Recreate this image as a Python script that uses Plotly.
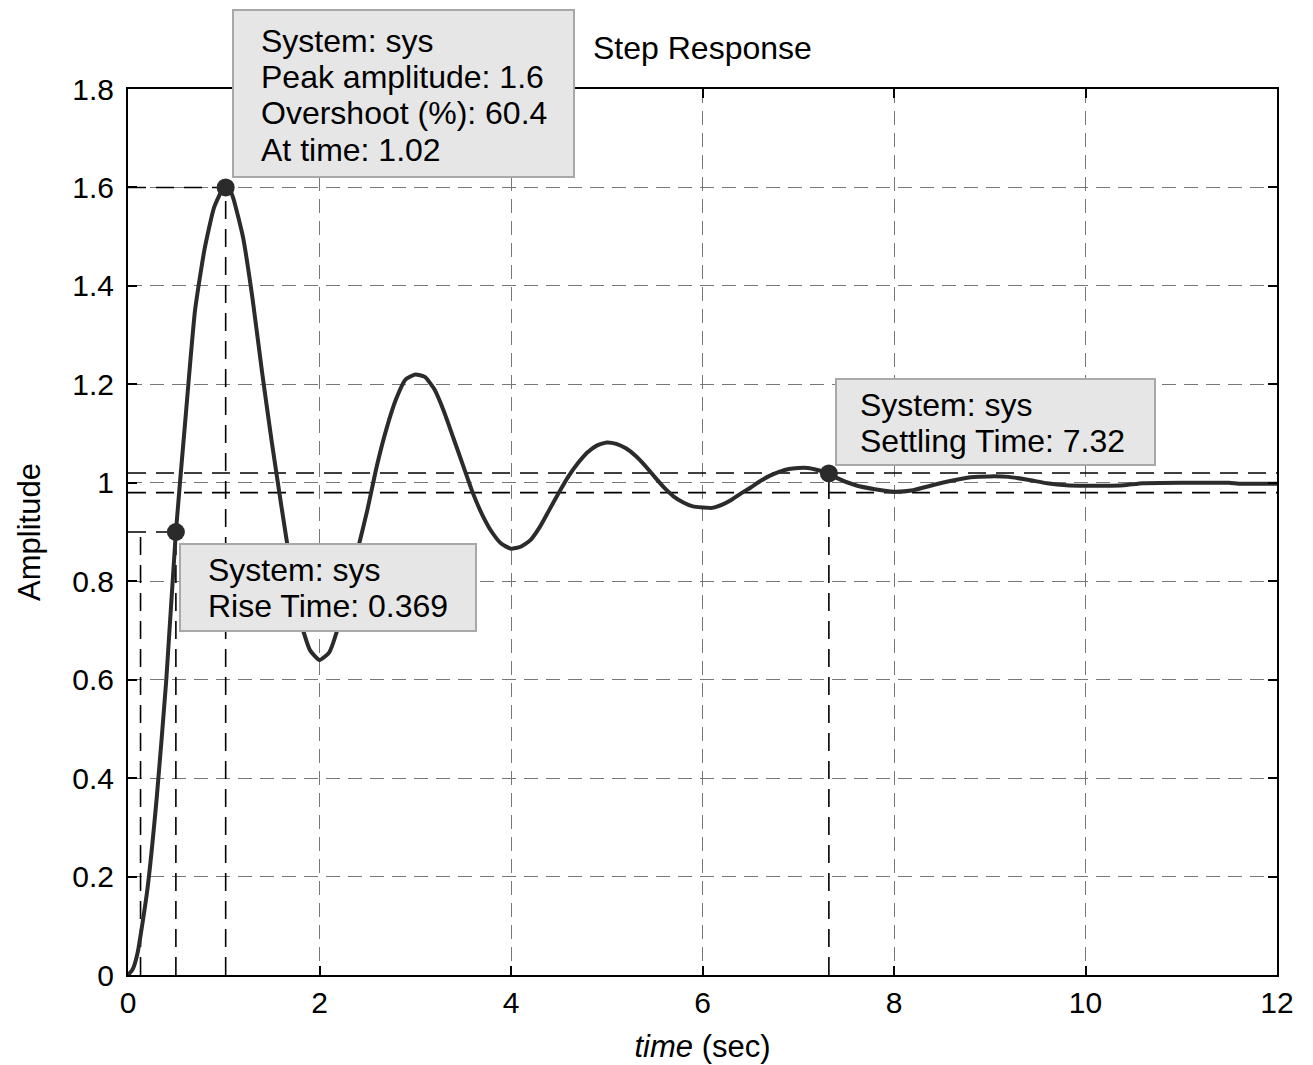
import plotly.graph_objects as go

# Step response samples
time_s = [0.0, 0.05, 0.1, 0.2, 0.3, 0.4, 0.5, 0.6, 0.7, 0.8, 0.9, 1.0, 1.05, 1.1, 1.2, 1.3,
          1.4, 1.5, 1.6, 1.7, 1.8, 1.9, 2.0, 2.1, 2.2, 2.3, 2.4, 2.5, 2.6, 2.7, 2.8, 2.9,
          3.0, 3.1, 3.2, 3.3, 3.4, 3.5, 3.6, 3.7, 3.8, 3.9, 4.0, 4.1, 4.2, 4.3, 4.4, 4.5,
          4.6, 4.7, 4.8, 4.9, 5.0, 5.1, 5.2, 5.3, 5.4, 5.5, 5.6, 5.7, 5.8, 5.9, 6.0, 6.1,
          6.2, 6.3, 6.4, 6.5, 6.6, 6.7, 6.8, 6.9, 7.0, 7.1, 7.2, 7.32, 7.4, 7.6, 7.8, 8.0,
          8.2, 8.4, 8.6, 8.8, 9.0, 9.2, 9.4, 9.6, 9.8, 10.0, 10.2, 10.4, 10.6, 11.0, 11.5,
          11.6, 12.0]
amplitude = [0.0, 0.012, 0.045, 0.17, 0.36, 0.6, 0.9, 1.13, 1.35, 1.475, 1.56, 1.6, 1.602, 1.578,
             1.5, 1.375, 1.225, 1.085, 0.955, 0.83, 0.72, 0.66, 0.64, 0.655, 0.71, 0.79, 0.865,
             0.945, 1.035, 1.11, 1.17, 1.21, 1.22, 1.215, 1.19, 1.145, 1.09, 1.035, 0.98, 0.935,
             0.9, 0.876, 0.866, 0.87, 0.883, 0.91, 0.945, 0.98, 1.013, 1.04, 1.062, 1.076, 1.082,
             1.079, 1.07, 1.055, 1.035, 1.012, 0.99, 0.972, 0.96, 0.952, 0.95, 0.949, 0.955,
             0.965, 0.978, 0.99, 1.003, 1.014, 1.022, 1.028, 1.03, 1.03, 1.026, 1.019, 1.01,
             0.995, 0.987, 0.982, 0.985, 0.995, 1.004, 1.011, 1.013, 1.012, 1.006, 0.999, 0.995,
             0.994, 0.994, 0.995, 0.999, 1.0, 1.0, 0.998, 0.998]

# Characteristics
rise_start = 0.131
rise_end = 0.5
rise_level = 0.9
peak_time = 1.02
peak_amp = 1.6
settle_time = 7.32
settle_amp = 1.019
band_hi = 1.02
band_lo = 0.98
t_max = 12

x_ticks = [0, 2, 4, 6, 8, 10, 12]
y_ticks = [0, 0.2, 0.4, 0.6, 0.8, 1.0, 1.2, 1.4, 1.6, 1.8]
y_tick_text = ["0", "0.2", "0.4", "0.6", "0.8", "1", "1.2", "1.4", "1.6", "1.8"]

box1_lines = ["System: sys", "Peak amplitude: 1.6", "Overshoot (%): 60.4", "At time: 1.02"]
box2_lines = ["System: sys", "Rise Time: 0.369"]
box3_lines = ["System: sys", "Settling Time: 7.32"]

FONT = "Liberation Sans, Arial, Helvetica, sans-serif"
ref = dict(color="black", width=1.6, dash="18px,10px")

fig = go.Figure()


def seg(xs, ys):
    fig.add_trace(go.Scatter(x=xs, y=ys, mode="lines", line=ref, hoverinfo="skip", showlegend=False))


seg([0, t_max], [band_hi, band_hi])
seg([0, t_max], [band_lo, band_lo])
seg([rise_start, rise_start], [0, rise_level])
seg([rise_end, rise_end], [0, rise_level])
seg([0, rise_end], [rise_level, rise_level])
seg([0, peak_time], [peak_amp, peak_amp])
seg([peak_time, peak_time], [0, peak_amp])
seg([settle_time, settle_time], [0, settle_amp])

# response curve
fig.add_trace(go.Scatter(x=time_s, y=amplitude, mode="lines",
                         line=dict(color="#2b2b2b", width=4, shape="spline", smoothing=0.5),
                         showlegend=False))

# markers
fig.add_trace(go.Scatter(x=[rise_end, peak_time, settle_time], y=[rise_level, peak_amp, settle_amp],
                         mode="markers", marker=dict(color="#2b2b2b", size=18), showlegend=False))

# page offset (browser body margin)
OFF = 8
W, H = 1313 - OFF, 1065 - OFF
# plot area in screen pixels (reference)
SX0, SX1, SY0, SY1 = 128, 1277, 89, 975
L = SX0 - OFF
T = SY0 - OFF
R = W - (SX1 - OFF)
B = H - (SY1 - OFF)
pw, ph = SX1 - SX0, SY1 - SY0


def px(xs):
    return (xs - SX0) / pw


def py(ys):
    return (SY1 - ys) / ph


TXT = 32
boxes = [
    ((233, 10, 574, 177), 259, [41, 77, 113, 150], box1_lines),
    ((180, 544, 476, 631), 206, [570, 606], box2_lines),
    ((836, 379, 1155, 465), 858, [405, 441], box3_lines),
]
for (x0, y0, x1, y1), tx, tys, lines in boxes:
    fig.add_shape(type="rect", xref="paper", yref="paper",
                  x0=px(x0), x1=px(x1), y0=py(y1), y1=py(y0),
                  fillcolor="#e6e6e6", line=dict(color="#a8a8a8", width=2), layer="above")
    for ty, line in zip(tys, lines):
        fig.add_annotation(xref="paper", yref="paper", x=px(tx), y=py(ty), text=line,
                           showarrow=False, xanchor="left", yanchor="middle",
                           font=dict(family=FONT, size=TXT, color="black"))

fig.add_annotation(xref="paper", yref="paper", x=0.5, y=py(48), text="Step Response",
                   showarrow=False, xanchor="center", yanchor="middle",
                   font=dict(family=FONT, size=TXT, color="black"))

axis_common = dict(showline=True, linecolor="black", linewidth=2, mirror="ticks",
                   ticks="inside", ticklen=9, tickwidth=1.5, tickcolor="black",
                   showgrid=True, gridcolor="#777777", gridwidth=1, griddash="14px,8px",
                   zeroline=False, tickfont=dict(family=FONT, size=30, color="black"))

fig.update_xaxes(range=[0, t_max], tickvals=x_ticks, ticktext=[str(v) for v in x_ticks],
                 title=dict(text="<i>time</i> (sec)", font=dict(family=FONT, size=31, color="black"),
                            standoff=17),
                 **axis_common)
fig.update_yaxes(range=[0, 1.8], tickvals=y_ticks, ticktext=y_tick_text, ticklabelstandoff=6,
                 title=dict(text="Amplitude", font=dict(family=FONT, size=31, color="black"),
                            standoff=22),
                 **axis_common)

fig.update_layout(width=W, height=H, margin=dict(l=L, r=R, t=T, b=B, autoexpand=False),
                  plot_bgcolor="white", paper_bgcolor="white", showlegend=False)

fig.write_html("out.html")
